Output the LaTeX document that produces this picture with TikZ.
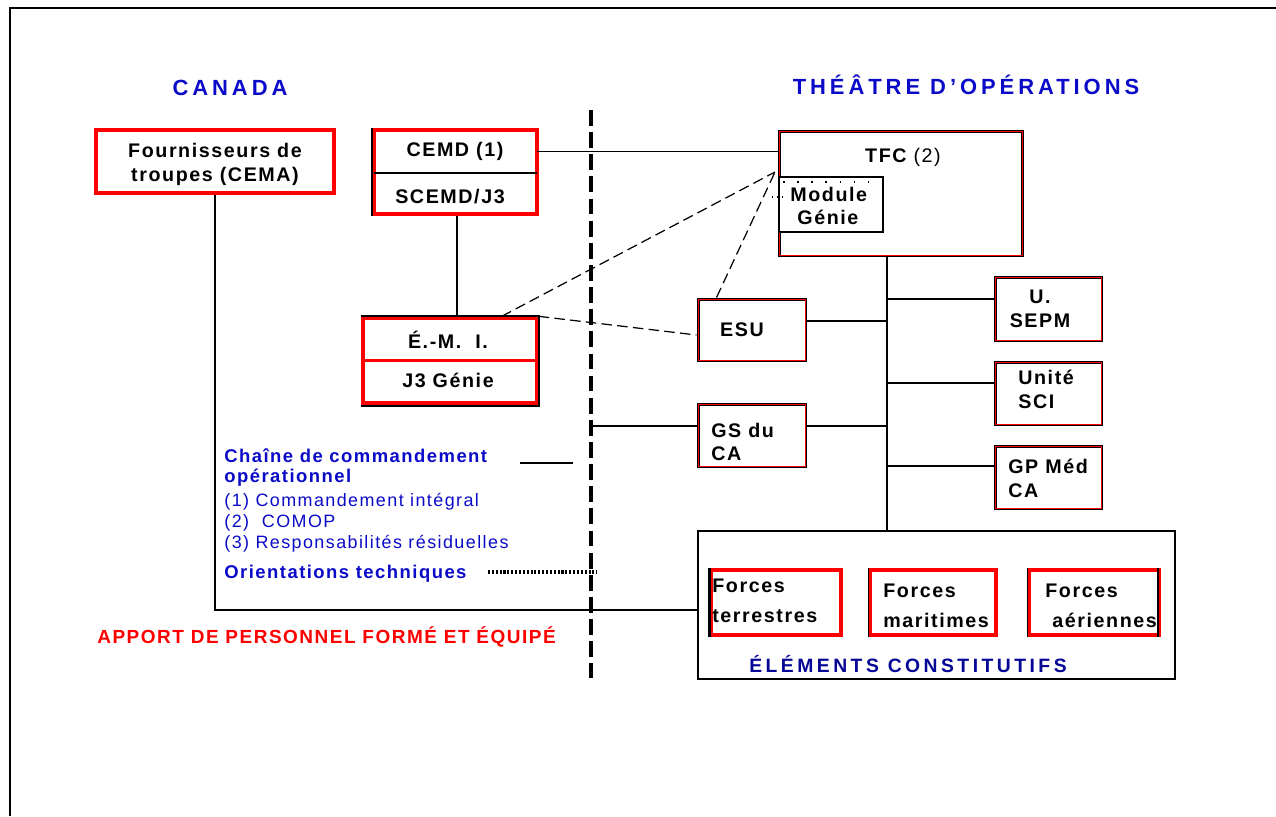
\documentclass[tikz,border=0pt]{standalone}
\usepackage{fontspec}
\setmainfont{Liberation Sans}
\newfontfamily\bxf{Liberation Sans}[LetterSpace=8]
\newfontfamily\ttf{Liberation Sans}[LetterSpace=18]
\newfontfamily\lgf{Liberation Sans}[LetterSpace=8]
\definecolor{rd}{RGB}{255,0,0}
\definecolor{bl}{RGB}{10,10,200}
\definecolor{nv}{RGB}{5,5,150}
\newcommand\redin[1]{\draw[rd,line width=0.45pt] ([shift={(1.1pt,-1.1pt)}]#1.north west) rectangle ([shift={(-1.1pt,1.1pt)}]#1.south east);}
\begin{document}
\begin{tikzpicture}[x=0.02cm,y=-0.02cm,
  every node/.style={inner sep=0pt},
  rbox/.style={draw=rd,line width=1.9pt},
  kbox/.style={draw=black,line width=1.7pt},
  ebox/.style={draw=black,line width=1.1pt},
  btxt/.style={font=\bxf\bfseries\fontsize{11.2}{13.6}\selectfont,align=center},
  bltxt/.style={font=\bxf\bfseries\fontsize{11.2}{13.6}\selectfont,align=left,anchor=west},
  ttl/.style={font=\ttf\bfseries\fontsize{12.5}{14}\selectfont,text=bl},
  lgb/.style={font=\lgf\bfseries\fontsize{10.5}{12.5}\selectfont,text=bl,anchor=west},
  lgr/.style={font=\lgf\fontsize{10.2}{12}\selectfont,text=bl,anchor=west},
  conn/.style={draw=black,line width=0.8pt},
  dsh/.style={draw=black,line width=0.7pt,dash pattern=on 6pt off 3pt}
]
\useasboundingbox (0,0) rectangle (1276,816);
% frame
\draw[line width=1.2pt] (10,816) -- (10,8) -- (1276,8);

% titles
\node[ttl] (canada) at (230,88) {CANADA};
\node[ttl] (theatre) at (966,85) {THÉÂTRE D’OPÉRATIONS};

% boxes
\node[rbox,minimum width=4.76cm,minimum height=1.26cm] (four) at (215,161.5) {};
\node[btxt] (fourt) at (215,164) {Fournisseurs de\\troupes (CEMA)};

\node[rbox,minimum width=3.26cm,minimum height=1.68cm] (cemd) at (455.5,172) {};
\node[minimum width=3.26cm,minimum height=0.86cm] (cemdA) at (455.5,151.5) {};
\node[minimum width=3.26cm,minimum height=0.82cm] (cemdB) at (455.5,193.5) {};
\draw[black,line width=1.1pt] (cemd.north west) -- (cemd.south west);
\draw[black,line width=1.1pt] (cemdA.south west) -- (cemdA.south east);
\node[btxt] (cemdt) at (455,151) {CEMD (1)};
\node[btxt] (scemdt) at (450,197) {SCEMD/J3};

\node[rbox,minimum width=3.48cm,minimum height=1.7cm] (emi) at (450,360.5) {};
\node[minimum width=3.48cm,minimum height=0.84cm] (emiA) at (450,339) {};
\node[minimum width=3.48cm,minimum height=0.86cm] (emiB) at (450,381.5) {};
\draw[rd,line width=1.9pt] (emiA.south west) -- (emiA.south east);
\draw[black,line width=1.1pt] (emi.north west) -- (emi.north east) -- ([yshift=-1pt]emi.south east) -- ([yshift=-1pt]emi.south west);
\node[btxt] (emit) at (448,340) {É.-M.\ \ I.};
\node[btxt] (j3t) at (448,380) {J3 Génie};

\node[kbox,minimum width=4.88cm,minimum height=2.5cm] (tfc) at (901,193.5) {};
\redin{tfc}
\node[font=\bxf\fontsize{11.2}{13}\selectfont] (tfct) at (903,157) {\bfseries TFC\mdseries\ (2)};
\node[ebox,fill=white,minimum width=2.08cm,minimum height=1.1cm] (mod) at (831,204.5) {};
\node[bltxt] (modt) at (790,206) {Module\\\ Génie};

\node[kbox,minimum width=2.16cm,minimum height=1.24cm] (esu) at (752,330) {};
\redin{esu}
\node[btxt] (esut) at (742,330) {ESU};

\node[kbox,minimum width=2.16cm,minimum height=1.26cm] (gs) at (752,435.5) {};
\redin{gs}
\node[bltxt] (gst) at (711,442) {GS du\\CA};

\node[kbox,minimum width=2.14cm,minimum height=1.28cm] (sepm) at (1048.5,309) {};
\redin{sepm}
\node[btxt] (sepmt) at (1040,309) {U.\\SEPM};

\node[kbox,minimum width=2.14cm,minimum height=1.26cm] (sci) at (1048.5,393.5) {};
\redin{sci}
\node[bltxt] (scit) at (1018,389) {Unité\\SCI};

\node[kbox,minimum width=2.14cm,minimum height=1.26cm] (gpm) at (1048.5,477.5) {};
\redin{gpm}
\node[bltxt] (gpmt) at (1008,478) {GP Méd\\CA};

\node[ebox,minimum width=9.54cm,minimum height=2.96cm] (el) at (936.5,605) {};
\node[rbox,minimum width=2.6cm,minimum height=1.3cm] (ft) at (776,602.5) {};
\draw[black,line width=1.6pt] (ft.north west) -- (ft.south west);
\node[bltxt,font=\bxf\bfseries\fontsize{11.2}{17}\selectfont] (ftt) at (712,601) {Forces\\terrestres};
\node[rbox,minimum width=2.52cm,minimum height=1.3cm] (fm) at (933,602.5) {};
\draw[black,line width=0.9pt] (fm.north west) -- (fm.south west);
\node[bltxt,font=\bxf\bfseries\fontsize{11.2}{17}\selectfont] (fmt) at (883,606) {Forces\\maritimes};
\node[rbox,minimum width=2.6cm,minimum height=1.3cm] (fa) at (1094,602.5) {};
\draw[black,line width=0.9pt] (fa.north west) -- (fa.south west);
\draw[black,line width=0.9pt] ([xshift=-1.5pt]fa.north east) -- ([xshift=-1.5pt]fa.south east);
\node[bltxt,font=\bxf\bfseries\fontsize{11.2}{17}\selectfont] (fat) at (1045,606) {Forces\\\ aériennes};
\node[font=\ttf\bfseries\fontsize{11}{13}\selectfont,text=nv] (elt) at (908,664) {ÉLÉMENTS CONSTITUTIFS};

% legend
\node[lgb] (lg1) at (224,456) {Chaîne de commandement};
\node[lgb] (lg2) at (224,478) {opérationnel};
\node[lgr] (lg3) at (224,502) {(1) Commandement intégral};
\node[lgr] (lg4) at (224,523) {(2)\ \ COMOP};
\node[lgr] (lg5) at (224,544) {(3) Responsabilités résiduelles};
\node[lgb] (lg6) at (224,574) {Orientations techniques};
\node[font=\lgf\bfseries\fontsize{10.8}{12}\selectfont,text=rd,anchor=west] (apport) at (97,637) {APPORT DE PERSONNEL FORMÉ ET ÉQUIPÉ};

% coordinates
\coordinate (dvtop) at (591,110);
\coordinate (dvbot) at (591,678);
\coordinate (tk) at (887,0);
\coordinate (mg) at (775,172);
\coordinate (gsl) at (591,426);
\coordinate (la) at (520,463);
\coordinate (lb) at (573,463);
\coordinate (lc) at (488,572);
\coordinate (ld) at (597,572);

% divider
\draw[line width=2.8pt,dash pattern=on 9pt off 3.6pt] (dvtop) -- (dvbot);

% connectors
\draw[conn] (cemdA.east) -- (tfc.west |- cemdA.east);
\draw[conn] (cemd.south -| 457,0) -- (emi.north -| 457,0);
\draw[conn] (four.south) |- ([yshift=-0.1cm]el.west);
\draw[conn] (tfc.south -| tk) -- (el.north -| tk);
\draw[conn] ([yshift=0.18cm]esu.east) -- ([yshift=0.18cm]esu.east -| tk);
\draw[conn] ([yshift=0.19cm]gs.east) -- ([yshift=0.19cm]gs.east -| tk);
\draw[conn] ([yshift=0.2cm]sepm.west) -- ([yshift=0.2cm]sepm.west -| tk);
\draw[conn] ([yshift=0.21cm]sci.west) -- ([yshift=0.21cm]sci.west -| tk);
\draw[conn] ([yshift=0.23cm]gpm.west) -- ([yshift=0.23cm]gpm.west -| tk);
\draw[draw=black,line width=1.6pt] (gsl) -- (gsl -| gs.west);
\draw[dsh] ([xshift=-0.74cm]emi.north east) -- (mg);
\draw[dsh] ([xshift=0.4cm]esu.north west) -- (mg);
\draw[dsh] (emi.north east) -- ([yshift=-0.1cm]esu.west);
\draw[black,line width=0.8pt,dash pattern=on 1pt off 7pt] ([shift={(3pt,-3.5pt)}]mod.north west) -- ([shift={(-3pt,-3.5pt)}]mod.north east);
\draw[black,line width=0.8pt,dotted] ([shift={(-3.5pt,-12pt)}]mod.north west) -- ([shift={(4pt,-12pt)}]mod.north west);
\draw[conn] (la) -- (lb);
\draw[black,line width=2pt,dash pattern=on 1.2pt off 1pt] (lc) -- (ld);
\end{tikzpicture}
\end{document}
